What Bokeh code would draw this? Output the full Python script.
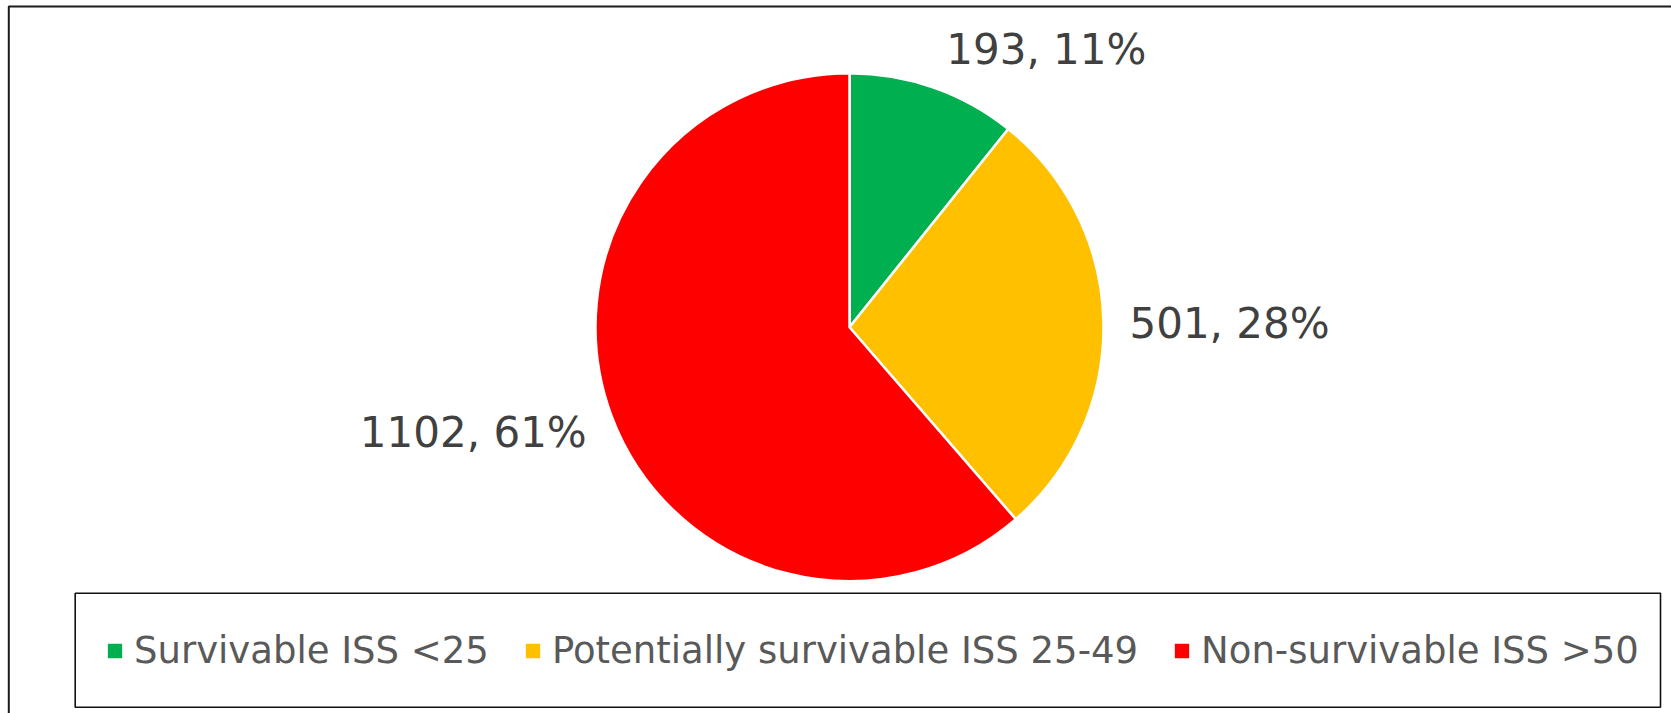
import numpy as np
from bokeh.plotting import figure
from bokeh.models import ColumnDataSource, Range1d, BoxAnnotation
from bokeh.core.properties import value
from bokeh.embed import file_html
from bokeh.resources import INLINE

# ---- data ----
categories = ["Survivable ISS <25", "Potentially survivable ISS 25-49", "Non-survivable ISS >50"]
counts = [193, 501, 1102]
percents = [11, 28, 61]
colors = ["#00B050", "#FFC000", "#FF0000"]

# ---- layout constants (pixels) ----
W, H = 1671, 713
CX, CY, R = 849, H - 326.7, 254
FONT = "DejaVu Sans"

total = float(sum(counts))
frac = np.array(counts) / total
cum_end = np.cumsum(frac)
cum_start = cum_end - frac
start_angle = np.pi / 2 - cum_start * 2 * np.pi
end_angle = np.pi / 2 - cum_end * 2 * np.pi
mid = np.pi / 2 - (cum_start + frac / 2) * 2 * np.pi

src = ColumnDataSource(dict(label=categories, color=colors,
                            start=start_angle, end=end_angle))

# label placement from slice mid-angles
sx, sy = np.cos(mid), np.sin(mid)
ax = CX + (R + 20) * sx
ay = CY + (R + 20) * sy
aligns = ["left" if v > 0.3 else ("right" if v < -0.3 else "center") for v in sx]
gap = np.array([6 if a == "left" else (-6 if a == "right" else 0) for a in aligns])
lsrc = ColumnDataSource(dict(
    x=ax + gap,
    y=ay + sy * 22 - 2,
    txt=[f"{c}, {p}%" for c, p in zip(counts, percents)],
    align=aligns,
))

p = figure(width=W, height=H, output_backend="svg", toolbar_location=None,
           x_range=Range1d(0, W), y_range=Range1d(0, H),
           min_border=0, min_border_left=0, min_border_right=0,
           min_border_top=0, min_border_bottom=0)
p.axis.visible = False
p.grid.visible = False
p.outline_line_color = None
p.background_fill_color = "white"
p.border_fill_color = "white"

p.wedge(x=CX, y=CY, radius=R, start_angle="start", end_angle="end",
        direction="clock", fill_color="color", line_color="white",
        line_width=2.5, legend_field="label", source=src)

p.text(x="x", y="y", text="txt", source=lsrc, text_align="align",
       text_baseline="middle", text_font=value(FONT), text_font_size="42px",
       text_color="#404040")

# outer chart frame (extends past the right/bottom edge)
p.add_layout(BoxAnnotation(left=8.3, right=W + 40, top=H - 6, bottom=-40,
                           fill_alpha=0, line_color="#1a1a1a", line_alpha=1.0,
                           line_width=2))
# legend frame
p.add_layout(BoxAnnotation(left=74.7, right=1660, top=H - 592.7, bottom=H - 706.7,
                           fill_alpha=0, line_color="#111111", line_alpha=1.0,
                           line_width=1.6))

lg = p.legend[0]
lg.orientation = "horizontal"
lg.location = (104, 41)
lg.padding = 0
lg.margin = 0
lg.spacing = 33
lg.glyph_width = 21
lg.glyph_height = 21
lg.label_standoff = 9
lg.label_text_font = FONT
lg.label_text_font_size = "37px"
lg.label_text_color = "#595959"
lg.border_line_color = None
lg.background_fill_alpha = 0

open("out.html", "w").write(file_html(p, INLINE))
